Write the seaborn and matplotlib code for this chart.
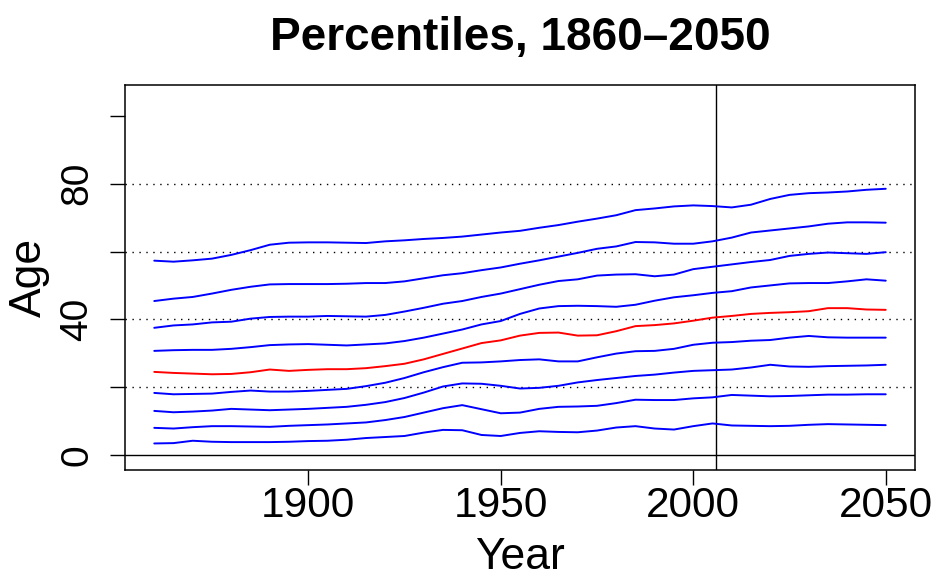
import numpy as np
import pandas as pd
import matplotlib
matplotlib.use("Agg")
import matplotlib.pyplot as plt
import seaborn as sns

years = list(range(1860, 2051, 5))

p10 = [3.4, 3.5, 4.2, 3.9, 3.8, 3.8, 3.8, 3.9, 4.1, 4.2,
       4.5, 5.0, 5.3, 5.6, 6.6, 7.4, 7.3, 5.9, 5.6,
       6.5, 7.0, 6.8, 6.7, 7.2, 8.1, 8.5, 7.8, 7.5, 8.5, 9.3,
       8.7, 8.6, 8.5, 8.6, 8.9, 9.1, 9.0, 8.9, 8.8]
p20 = [8.0, 7.8, 8.2, 8.5, 8.5, 8.4, 8.3, 8.6, 8.8, 9.0,
       9.3, 9.6, 10.3, 11.2, 12.5, 13.8, 14.7, 13.5, 12.3,
       12.5, 13.6, 14.2, 14.3, 14.5, 15.3, 16.3, 16.2, 16.2, 16.7, 17.0,
       17.7, 17.5, 17.3, 17.4, 17.6, 17.8, 17.8, 17.9, 17.9]
p30 = [13.0, 12.6, 12.8, 13.1, 13.6, 13.4, 13.2, 13.4, 13.6, 13.9,
       14.2, 14.8, 15.6, 16.8, 18.4, 20.2, 21.1, 21.0, 20.4,
       19.6, 19.8, 20.4, 21.4, 22.1, 22.7, 23.3, 23.7, 24.3, 24.8, 25.0,
       25.2, 25.8, 26.6, 26.1, 26.0, 26.2, 26.3, 26.4, 26.6]
p40 = [18.3, 17.9, 18.0, 18.1, 18.6, 19.0, 18.7, 18.7, 18.9, 19.2,
       19.5, 20.3, 21.3, 22.7, 24.4, 25.9, 27.2, 27.3, 27.6,
       28.0, 28.2, 27.6, 27.6, 28.8, 29.9, 30.6, 30.7, 31.3, 32.5, 33.1,
       33.3, 33.7, 33.9, 34.6, 35.1, 34.7, 34.6, 34.6, 34.6]
p50 = [24.5, 24.2, 24.0, 23.8, 23.9, 24.4, 25.2, 24.8, 25.1, 25.3,
       25.3, 25.6, 26.2, 26.9, 28.2, 29.8, 31.4, 33.0, 33.8,
       35.2, 36.0, 36.1, 35.2, 35.3, 36.5, 38.0, 38.3, 38.8, 39.6, 40.5,
       41.0, 41.6, 41.9, 42.1, 42.4, 43.3, 43.3, 42.9, 42.8]
p60 = [30.7, 30.9, 31.0, 31.0, 31.3, 31.8, 32.4, 32.6, 32.7, 32.5,
       32.3, 32.6, 32.9, 33.6, 34.6, 35.8, 37.0, 38.5, 39.5,
       41.6, 43.2, 43.9, 44.0, 43.9, 43.7, 44.3, 45.5, 46.5, 47.1, 47.8,
       48.3, 49.4, 50.0, 50.6, 50.7, 50.7, 51.2, 51.8, 51.4]
p70 = [37.5, 38.2, 38.5, 39.1, 39.3, 40.2, 40.7, 40.8, 40.8, 41.0,
       40.9, 40.8, 41.3, 42.3, 43.4, 44.6, 45.4, 46.6, 47.6,
       48.9, 50.2, 51.3, 51.8, 52.9, 53.2, 53.3, 52.7, 53.2, 54.8, 55.5,
       56.2, 56.9, 57.5, 58.7, 59.3, 59.7, 59.5, 59.3, 59.8]
p80 = [45.4, 46.1, 46.6, 47.6, 48.7, 49.6, 50.3, 50.4, 50.4, 50.4,
       50.5, 50.7, 50.7, 51.2, 52.1, 53.0, 53.6, 54.5, 55.3,
       56.4, 57.4, 58.5, 59.6, 60.8, 61.5, 62.8, 62.7, 62.3, 62.3, 63.0,
       64.1, 65.6, 66.2, 66.8, 67.4, 68.2, 68.6, 68.6, 68.5]
p90 = [57.3, 57.0, 57.4, 57.9, 59.0, 60.4, 62.0, 62.6, 62.7, 62.7,
       62.6, 62.5, 63.0, 63.3, 63.7, 64.0, 64.4, 65.0, 65.6,
       66.1, 67.0, 67.8, 68.8, 69.7, 70.7, 72.2, 72.7, 73.3, 73.6, 73.4,
       73.0, 73.8, 75.5, 76.7, 77.2, 77.4, 77.7, 78.2, 78.5]

series_names = ["p10", "p20", "p30", "p40", "p50", "p60", "p70", "p80", "p90"]
series_vals = [p10, p20, p30, p40, p50, p60, p70, p80, p90]

title = "Percentiles, 1860\u20132050"
xlabel = "Year"
ylabel = "Age"
xticks = [1900, 1950, 2000, 2050]
yticks = [0, 20, 40, 60, 80, 100]
yticklabels = ["0", "", "40", "", "80", ""]
grid_levels = [20, 40, 60, 80]
base_year = 2006

rows = []
for name, vals in zip(series_names, series_vals):
    for y, v in zip(years, vals):
        rows.append({"Year": y, "Age": v, "pct": name})
df = pd.DataFrame(rows)

palette = {n: "#0000FF" for n in series_names}
palette["p50"] = "#FF0000"

sns.set_theme(style="white")
plt.rcParams["font.family"] = ["Liberation Sans", "DejaVu Sans"]
plt.rcParams["text.color"] = "black"
plt.rcParams["axes.labelcolor"] = "black"
plt.rcParams["xtick.color"] = "black"
plt.rcParams["ytick.color"] = "black"

fig = plt.figure(figsize=(9.38, 5.81), dpi=100)
ax = fig.add_axes([0.13326, 0.19191, 0.84222, 0.66179])

for lv in grid_levels:
    ax.axhline(lv, color="black", linewidth=1.0, linestyle=(0, (1, 4)), zorder=1)
ax.axhline(0, color="black", linewidth=1.0, zorder=1)
ax.axvline(base_year, color="black", linewidth=1.0, zorder=1)

sns.lineplot(data=df, x="Year", y="Age", hue="pct", palette=palette,
             linewidth=1.4, legend=False, ax=ax, zorder=3)

ax.set_xlim(1852.4, 2057.6)
ax.set_ylim(-4.28, 109.1)
ax.set_xticks(xticks)
ax.set_xticklabels([str(t) for t in xticks])
ax.set_yticks(yticks)
ax.set_yticklabels(yticklabels, rotation=90, va="center")

for s in ax.spines.values():
    s.set_visible(True)
    s.set_color("black")
    s.set_linewidth(1.1)

ax.tick_params(axis="both", which="both", direction="out", length=10.5,
               width=1.0, color="black", labelcolor="black")
ax.tick_params(axis="x", labelsize=30.5, pad=1.5)
ax.tick_params(axis="y", labelsize=28, pad=11)
ax.tick_params(left=True, bottom=True, top=False, right=False)

ax.set_xlabel(xlabel, fontsize=32, labelpad=8, color="black")
ax.set_ylabel(ylabel, fontsize=32, labelpad=7, color="black")
ax.set_title(title, fontsize=33, fontweight="bold", pad=25, color="black")
ax.grid(False)

fig.savefig("out.png", dpi=100)
